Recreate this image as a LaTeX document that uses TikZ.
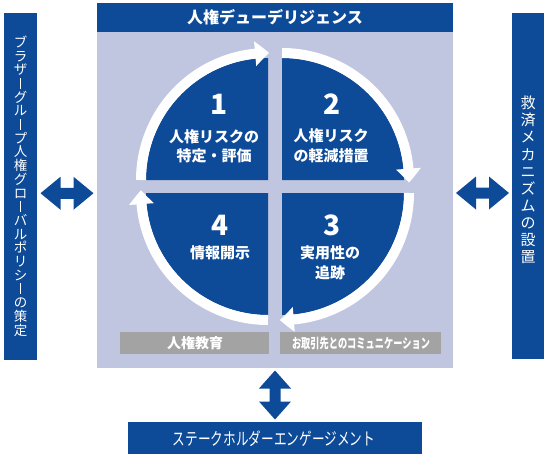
\documentclass[tikz,border=0pt]{standalone}
\usepackage{fontspec}
\usepackage{graphicx}
\setmainfont{Noto Sans CJK JP}
\newfontfamily\jpp[RawFeature=+palt]{Noto Sans CJK JP}
\usetikzlibrary{arrows.meta,bending,calc}
\definecolor{dkblue}{RGB}{13,74,151}
\definecolor{panelc}{RGB}{192,197,224}
\definecolor{grayc}{RGB}{163,163,163}
\newcommand{\vchoon}{\makebox[1em]{\rule[-0.02em]{0.075em}{0.8em}}}
\newcommand{\fitw}[2]{\resizebox{#1}{\height}{#2}}
\begin{document}
\begin{tikzpicture}[x=1pt,y=-1pt,
  bar/.style={fill=dkblue,draw=none,inner sep=0pt},
  graybox/.style={fill=grayc,draw=none,inner sep=0pt},
  wtext/.style={text=white,inner sep=0pt,align=center},
  qtext/.style={wtext,font=\fontsize{15pt}{19.5pt}\selectfont\bfseries},
  num/.style={wtext,font=\fontsize{28pt}{30pt}\selectfont\bfseries},
  quad/.style={fill=dkblue},
  cyc/.style={draw=white,line width=10pt,-{Triangle[width=24pt,length=14pt,bend]}},
  dbl/.style={fill=dkblue}]
\useasboundingbox (0,0) rectangle (550,459);
% bars and panel
\node[bar,minimum width=33pt,minimum height=347pt] (leftbar) at (20.5,186.5) {};
\node[bar,minimum width=32pt,minimum height=346pt] (rightbar) at (528,186) {};
\node[fill=panelc,inner sep=0pt,minimum width=356pt,minimum height=336pt] (panel) at (275,200) {};
\node[bar,minimum width=356pt,minimum height=29pt] (title) at (275,17.5) {};
\node[bar,minimum width=294pt,minimum height=32pt] (bottom) at (275,438) {};
\node[graybox,minimum width=149pt,minimum height=22pt] (g1) at (194.5,343) {};
\node[graybox,minimum width=161pt,minimum height=22pt] (g2) at (360.5,343) {};
% texts
\node[wtext,font=\fontsize{16pt}{18pt}\selectfont\bfseries] (titletext) at (title.center) {人権デューデリジェンス};
\node[wtext,font=\fontsize{13.5pt}{13.7pt}\selectfont] (lefttext) at (20.5,186) {ブ\\ラ\\ザ\\\vchoon\\グ\\ル\\\vchoon\\プ\\人\\権\\グ\\ロ\\\vchoon\\バ\\ル\\ポ\\リ\\シ\\\vchoon\\の\\策\\定};
\node[wtext,font=\fontsize{15pt}{17.1pt}\selectfont] (righttext) at (528,180) {救\\済\\メ\\カ\\ニ\\ズ\\ム\\の\\設\\置};
\node[wtext,font=\fontsize{17.5pt}{19pt}\selectfont] (bottomtext) at (274,439) {\fitw{202pt}{ステークホルダーエンゲージメント}};
\node[wtext,font=\fontsize{14pt}{16pt}\selectfont\bfseries] (g1text) at (195,343) {人権教育};
\node[wtext,font=\fontsize{13.5pt}{15pt}\selectfont\bfseries] (g2text) at (361,343) {\fitw{138pt}{お取引先とのコミュニケーション}};
% quadrant corners
\coordinate (c1) at (268,180);
\coordinate (c2) at (282,180);
\coordinate (c3) at (282,193);
\coordinate (c4) at (268,193);
\fill[quad] (c1) -- ++(-122,0) arc[start angle=180,end angle=270,radius=122] -- cycle;
\fill[quad] (c2) -- ++(0,-122) arc[start angle=270,end angle=360,radius=122] -- cycle;
\fill[quad] (c3) -- ++(122,0) arc[start angle=0,end angle=90,radius=122] -- cycle;
\fill[quad] (c4) -- ++(0,122) arc[start angle=90,end angle=180,radius=122] -- cycle;
% cycle arrows
\draw[cyc] (c1) ++(-127,0) arc[start angle=180,end angle=270.5,radius=127];
\draw[cyc] (c2) ++(0,-127) arc[start angle=270,end angle=361.2,radius=127];
\draw[cyc] (c3) ++(127,0) arc[start angle=0,end angle=91,radius=127];
\draw[cyc] (c4) ++(0,127) arc[start angle=90,end angle=181.3,radius=127];
% quadrant labels
\node[num] (n1) at (219,104) {1};
\node[qtext] (t1) at (214,146.5) {人権リスクの\\特定・評価};
\node[num] (n2) at (332,104) {2};
\node[qtext] (t2) at (331,146) {人権リスク\\の軽減措置};
\node[num] (n3) at (332,225) {3};
\node[qtext] (t3) at (330,263) {実用性の\\追跡};
\node[num] (n4) at (220,225) {4};
\node[qtext] (t4) at (220,253) {情報開示};
% double arrows
\path (leftbar.east) -- (panel.west) coordinate[midway] (la);
\path (panel.east) -- (rightbar.west) coordinate[midway] (ra);
\path (panel.south) -- (bottom.north) coordinate[midway] (ba);
\fill[dbl,shift={(la)}] (-26.5,0) -- (-6.5,-16.5) -- (-6.5,-5.5) -- (6.5,-5.5) -- (6.5,-16.5) -- (26.5,0) -- (6.5,16.5) -- (6.5,5.5) -- (-6.5,5.5) -- (-6.5,16.5) -- cycle;
\fill[dbl,shift={(ra)}] (-26.5,0) -- (-6.5,-16.5) -- (-6.5,-5.5) -- (6.5,-5.5) -- (6.5,-16.5) -- (26.5,0) -- (6.5,16.5) -- (6.5,5.5) -- (-6.5,5.5) -- (-6.5,16.5) -- cycle;
\fill[dbl,shift={(ba)}] (0,-24.5) -- (16,-6.5) -- (5.5,-6.5) -- (5.5,6.5) -- (16,6.5) -- (0,24.5) -- (-16,6.5) -- (-5.5,6.5) -- (-5.5,-6.5) -- (-16,-6.5) -- cycle;
\end{tikzpicture}
\end{document}
